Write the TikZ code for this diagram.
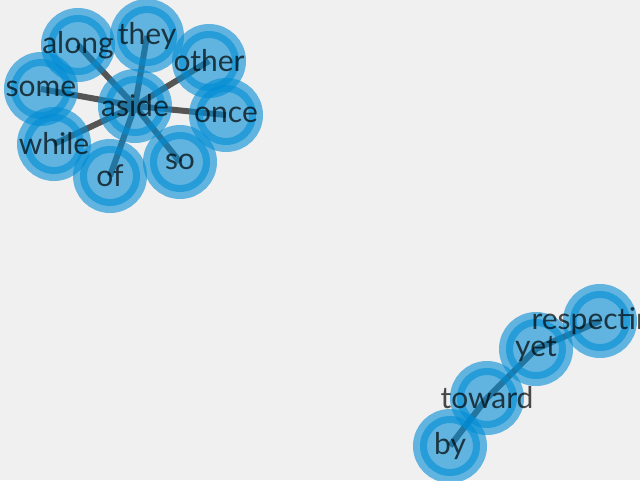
\documentclass[tikz,border=0pt]{standalone}
\usepackage{fontspec}
\setmainfont{Lato}
\definecolor{bgray}{RGB}{240,240,240}
\definecolor{nodeblue}{RGB}{0,140,213}
\definecolor{edgegray}{RGB}{85,85,85}
\tikzset{
  vertex/.style={circle,minimum size=60pt,inner sep=0pt,fill=nodeblue,fill opacity=0.6,
    postaction={draw=nodeblue,draw opacity=0.6,line width=14pt}},
  word/.style={inner sep=0pt,text=black,text opacity=0.7,font=\fontsize{30}{32}\selectfont},
  link/.style={draw=edgegray,line width=6pt}
}
\begin{document}
\begin{tikzpicture}[x=1pt,y=-1pt]
	\fill[bgray] (0,0) rectangle (640,480);
	\useasboundingbox (0,0) rectangle (640,480);
	% positions
	\coordinate (aside) at (135,106);
	\coordinate (they) at (147,36);
	\coordinate (along) at (78,45);
	\coordinate (other) at (209,61);
	\coordinate (some) at (41,89);
	\coordinate (once) at (226,115);
	\coordinate (while) at (54,144);
	\coordinate (of) at (110,176);
	\coordinate (so) at (180,162);
	\coordinate (respecting) at (600,321);
	\coordinate (yet) at (536,349);
	\coordinate (toward) at (487,398);
	\coordinate (by) at (450,446);
	% edges
	\foreach \w in {they,along,other,some,once,while,of,so}
		\draw[link] (aside) -- (\w);
	\draw[link] (by) -- (toward);
	\draw[link] (toward) -- (yet);
	\draw[link] (yet) -- (respecting);
	% nodes
	\foreach \w in {aside,they,along,other,some,once,while,of,so,respecting,yet,toward,by}
		\node[vertex] (\w-v) at (\w) {};
	% labels
	\foreach \w in {aside,they,along,other,some,once,while,of,so,respecting,yet,toward,by}
		\node[word] (\w-w) at (\w) {\w};
\end{tikzpicture}
\end{document}
